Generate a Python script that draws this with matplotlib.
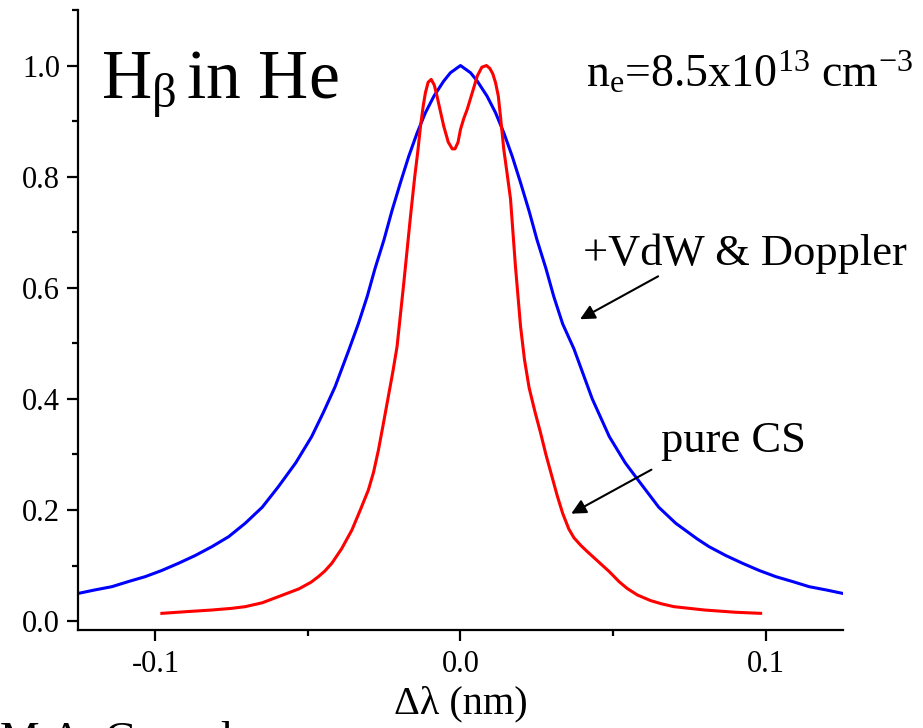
import matplotlib
matplotlib.use("Agg")
import matplotlib.pyplot as plt
from matplotlib.ticker import MultipleLocator

plt.rcParams['font.family'] = ['Liberation Serif', 'DejaVu Serif']
plt.rcParams['mathtext.fontset'] = 'custom'
plt.rcParams['mathtext.rm'] = 'Liberation Serif'
plt.rcParams['mathtext.it'] = 'Liberation Serif:italic'
plt.rcParams['axes.unicode_minus'] = False

# +VdW & Doppler profile (blue)
blue_x = [-0.1252, -0.1200, -0.1143, -0.1090, -0.1034, -0.0980, -0.0925, -0.0870,
          -0.0815, -0.0760, -0.0706, -0.0650, -0.0597, -0.0540, -0.0488, -0.0450,
          -0.0411, -0.0366, -0.0335, -0.0306, -0.0280, -0.0251, -0.0225, -0.0197,
          -0.0170, -0.0142, -0.0115, -0.0087, -0.0055, -0.0033, 0.0,
          0.0033, 0.0055, 0.0087, 0.0115, 0.0142, 0.0170, 0.0197, 0.0225, 0.0251,
          0.0280, 0.0306, 0.0335, 0.0372, 0.0432, 0.0488, 0.0540, 0.0574, 0.0650,
          0.0706, 0.0776, 0.0815, 0.0870, 0.0925, 0.0980, 0.1034, 0.1090, 0.1143,
          0.1200, 0.1252]
blue_y = [0.050, 0.056, 0.062, 0.071, 0.080, 0.091, 0.104, 0.118,
          0.134, 0.152, 0.176, 0.205, 0.242, 0.285, 0.332, 0.375,
          0.422, 0.488, 0.535, 0.584, 0.635, 0.686, 0.738, 0.789,
          0.836, 0.879, 0.915, 0.945, 0.972, 0.987, 1.000,
          0.987, 0.972, 0.945, 0.915, 0.879, 0.836, 0.789, 0.738, 0.686,
          0.635, 0.584, 0.535, 0.490, 0.400, 0.332, 0.285, 0.260, 0.205,
          0.176, 0.148, 0.134, 0.118, 0.104, 0.091, 0.080, 0.071, 0.062,
          0.056, 0.050]

# pure CS profile (red)
red_x = [-0.0979, -0.0900, -0.0815, -0.0750, -0.0706, -0.0650, -0.0597, -0.0530,
         -0.0490, -0.0466, -0.0445, -0.0422, -0.0390, -0.0356, -0.0330, -0.0302,
         -0.0285, -0.0269, -0.0254, -0.0238, -0.0222, -0.0208, -0.0186, -0.0164,
         -0.0150, -0.0140, -0.0131, -0.0122, -0.0115, -0.0106, -0.0096, -0.0086,
         -0.0077, -0.0066, -0.0055, -0.0040, -0.0027, -0.0018, -0.0008, 0.0000,
         0.0011, 0.0022, 0.0038, 0.0055, 0.0070, 0.0085, 0.0096, 0.0106, 0.0115,
         0.0124, 0.0131, 0.0142, 0.0151, 0.0164, 0.0180, 0.0197, 0.0210, 0.0225,
         0.0245, 0.0262, 0.0280, 0.0300, 0.0317, 0.0335, 0.0355, 0.0372, 0.0395,
         0.0414, 0.0450, 0.0488, 0.0520, 0.0546, 0.0580, 0.0623, 0.0660, 0.0700,
         0.0800, 0.0900, 0.0984]
red_y = [0.014, 0.017, 0.020, 0.023, 0.026, 0.033, 0.044, 0.058,
         0.070, 0.080, 0.090, 0.104, 0.130, 0.164, 0.198, 0.236,
         0.268, 0.308, 0.352, 0.400, 0.448, 0.494, 0.608, 0.728,
         0.800, 0.845, 0.891, 0.928, 0.951, 0.970, 0.975, 0.965,
         0.945, 0.918, 0.891, 0.862, 0.850, 0.850, 0.862, 0.885,
         0.905, 0.921, 0.950, 0.981, 0.997, 1.000, 0.995, 0.985, 0.969,
         0.945, 0.909, 0.849, 0.813, 0.760, 0.640, 0.530, 0.470, 0.420,
         0.375, 0.340, 0.300, 0.260, 0.226, 0.194, 0.166, 0.150, 0.136,
         0.126, 0.108, 0.089, 0.071, 0.059, 0.047, 0.037, 0.031, 0.026,
         0.020, 0.016, 0.014]

yticks = [0.0, 0.2, 0.4, 0.6, 0.8, 1.0]
xticks = [-0.1, 0.0, 0.1]

fig = plt.figure(figsize=(9.23, 7.28), dpi=100)
ax = fig.add_axes([0.0845, 0.1346, 0.8288, 0.8517])

ax.plot(blue_x, blue_y, color='#0000FF', lw=2.2, solid_joinstyle='round')
ax.plot(red_x, red_y, color='#FF0000', lw=2.2, solid_joinstyle='round')

ax.set_xlim(-0.1254, 0.1254)
ax.set_ylim(-0.016, 1.1)

# axis styling
for s in ['top', 'right']:
    ax.spines[s].set_visible(False)
for s in ['left', 'bottom']:
    ax.spines[s].set_linewidth(1.6)
ax.set_xticks(xticks)
ax.set_xticklabels(['%.1f' % t for t in xticks])
ax.set_yticks(yticks)
ax.set_yticklabels(['%.1f' % t for t in yticks])
ax.xaxis.set_minor_locator(MultipleLocator(0.05))
ax.yaxis.set_minor_locator(MultipleLocator(0.1))
ax.tick_params(which='major', direction='out', length=8, width=1.6,
               labelsize=22)
ax.tick_params(which='minor', direction='out', length=4.5, width=1.6)
ax.tick_params(axis='x', which='major', pad=6.5)
ax.tick_params(axis='y', which='major', pad=5)

ax.set_xlabel('Δλ (nm)', fontsize=29)
ax.xaxis.set_label_coords(0.5, -0.090)

# labels and arrows
ax.text(-0.118, 0.9405, r'H$_{\mathrm{\beta}}\,$in He', fontsize=50,
        ha='left', va='baseline')
ax.text(0.041, 0.962, r'n$_{\mathrm{e}}$=8.5x10$^{\mathrm{13}}$ cm$^{\mathrm{-3}}$',
        fontsize=33, ha='left', va='baseline')
ax.text(0.0403, 0.641, '+VdW & Doppler', fontsize=32, ha='left', va='baseline')
ax.text(0.0656, 0.305, 'pure CS', fontsize=32, ha='left', va='baseline')

ax.annotate('', xy=(0.0384, 0.541), xytext=(0.0656, 0.623),
            arrowprops=dict(arrowstyle='-|>', color='black', lw=1.5,
                            mutation_scale=22))
ax.annotate('', xy=(0.0355, 0.191), xytext=(0.0634, 0.275),
            arrowprops=dict(arrowstyle='-|>', color='black', lw=1.5,
                            mutation_scale=22))

# caption cut off at the bottom edge, as in the source image
fig.text(0.0, 0.009, 'M.A. Gonzalez', fontsize=32, ha='left', va='top')

fig.savefig('out.png', dpi=100)
